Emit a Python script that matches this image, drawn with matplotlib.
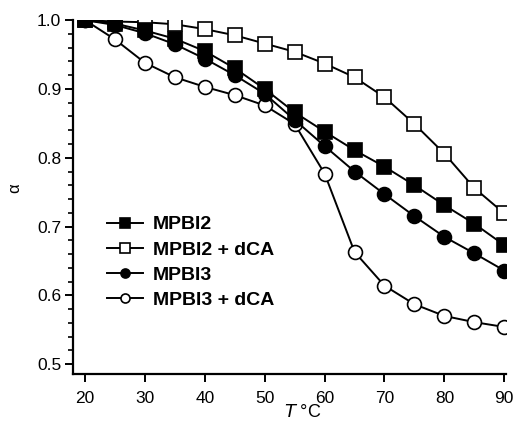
import matplotlib
matplotlib.use("Agg")
import matplotlib.pyplot as plt
from matplotlib.ticker import MultipleLocator

plt.rcParams['font.family'] = ['Liberation Sans', 'DejaVu Sans']

# temperatures (°C)
temp = [20, 25, 30, 35, 40, 45, 50, 55, 60, 65, 70, 75, 80, 85, 90]

# alpha values
mpbi2 = [1.0, 0.995, 0.985, 0.973, 0.955, 0.930, 0.900, 0.866, 0.838, 0.811, 0.787, 0.760, 0.731, 0.704, 0.673]
mpbi2_dca = [1.0, 0.998, 0.997, 0.994, 0.987, 0.978, 0.966, 0.954, 0.937, 0.917, 0.888, 0.849, 0.806, 0.756, 0.719]
mpbi3 = [1.0, 0.993, 0.981, 0.965, 0.944, 0.920, 0.893, 0.855, 0.817, 0.780, 0.747, 0.715, 0.685, 0.661, 0.636]
mpbi3_dca = [1.0, 0.972, 0.938, 0.917, 0.903, 0.891, 0.876, 0.849, 0.777, 0.663, 0.614, 0.587, 0.570, 0.561, 0.554]

labels = ["MPBI2", "MPBI2 + dCA", "MPBI3", "MPBI3 + dCA"]

fig = plt.figure(figsize=(5.18, 4.29), dpi=100)
ax = fig.add_axes([0.141, 0.128, 0.836, 0.825])

common = dict(color="black", lw=1.4, markersize=10, markeredgecolor="black", markeredgewidth=1.2)
ax.plot(temp, mpbi2_dca, marker="s", markerfacecolor="white", label=labels[1], **common)
ax.plot(temp, mpbi2, marker="s", markerfacecolor="black", label=labels[0], **common)
ax.plot(temp, mpbi3_dca, marker="o", markerfacecolor="white", label=labels[3], **common)
ax.plot(temp, mpbi3, marker="o", markerfacecolor="black", label=labels[2], **common)

ax.set_xlim(18, 90.3)
ax.set_ylim(0.4855, 1.0)
ax.xaxis.set_major_locator(MultipleLocator(10))
ax.yaxis.set_major_locator(MultipleLocator(0.1))
ax.yaxis.set_minor_locator(MultipleLocator(0.02))
ax.yaxis.set_major_formatter(plt.FormatStrFormatter('%.1f'))

for side in ["top", "right"]:
    ax.spines[side].set_visible(False)
for side in ["left", "bottom"]:
    ax.spines[side].set_linewidth(1.6)
ax.tick_params(axis="both", which="major", direction="out", length=6, width=1.4, labelsize=12.5)
ax.tick_params(axis="x", which="major", pad=6)
ax.tick_params(axis="y", which="major", pad=2.5)
ax.tick_params(axis="y", which="minor", direction="out", length=3.5, width=1.2)

ax.set_ylabel("α", fontsize=12, va="center")
ax.yaxis.set_label_coords(-0.134, 0.525)
ax.set_xlabel("$\\mathit{T}$ °C", fontsize=13)
ax.xaxis.set_label_coords(0.53, -0.085)
ax.xaxis.label.set_verticalalignment("top")

handles, labs = ax.get_legend_handles_labels()
order = [1, 0, 3, 2]
leg = ax.legend([handles[i] for i in order], [labs[i] for i in order],
                loc="lower left", bbox_to_anchor=(0.079, 0.184), frameon=False,
                prop={"weight": "bold", "size": 14}, markerscale=0.65,
                handlelength=1.85, handletextpad=0.5, labelspacing=0.39,
                borderpad=0, borderaxespad=0)

fig.savefig("out.png", dpi=100)
